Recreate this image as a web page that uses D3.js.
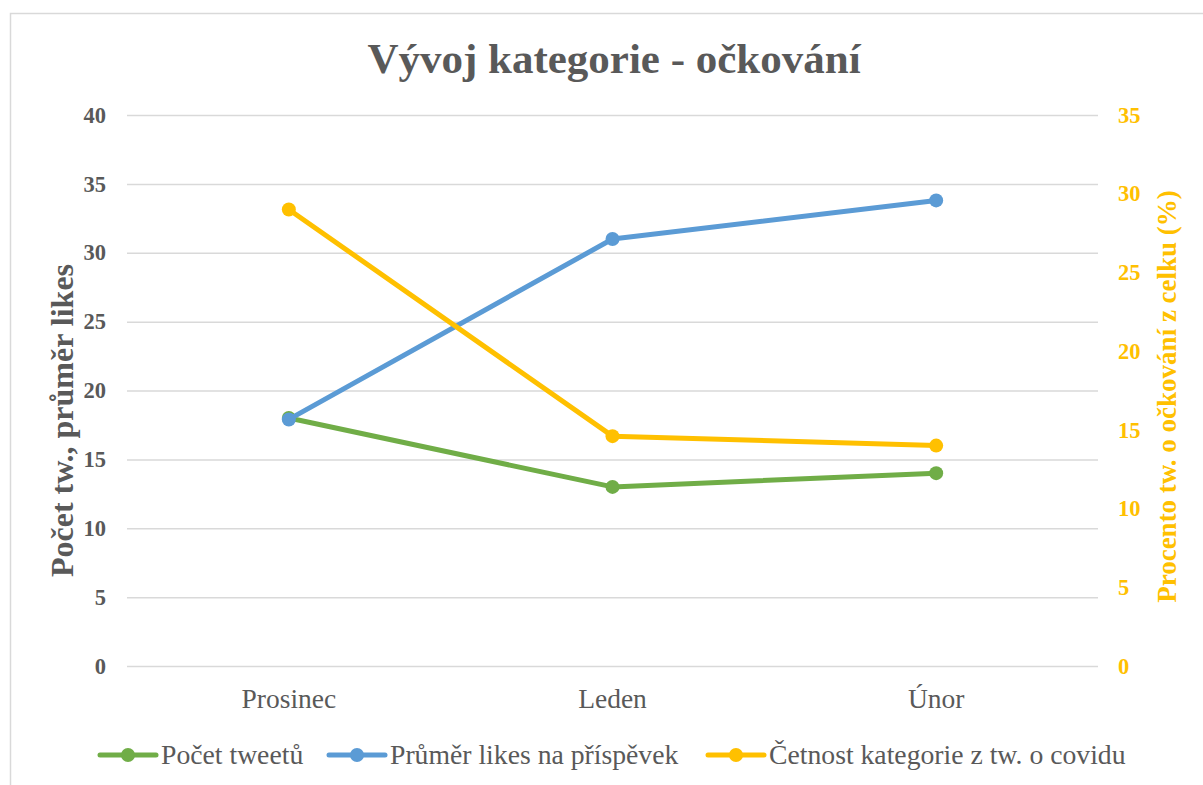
<!DOCTYPE html>
<html>
<head>
<meta charset="utf-8">
<script src="https://cdn.jsdelivr.net/npm/d3@7"></script>
<style>
    body { margin: 0; background: #ffffff; }
    text { font-family: "Liberation Serif", "Times New Roman", serif; }
</style>
</head>
<body>
<div id="chart"></div>
<script>
const months = ["Prosinec", "Leden", "Únor"];
const tweetCount = [18, 13, 14];
const avgLikes = [17.9, 31, 33.8];
const sharePct = [29, 14.6, 14];
const leftTicks = [0, 5, 10, 15, 20, 25, 30, 35, 40];
const rightTicks = [0, 5, 10, 15, 20, 25, 30, 35];
const seriesNames = ["Počet tweetů", "Průměr likes na příspěvek", "Četnost kategorie z tw. o covidu"];
const seriesColors = ["#70AD47", "#5B9BD5", "#FFC000"];

function init() {
    const w = 1203;
    const h = 785;
    const margin = { top: 115, right: 105, bottom: 119, left: 127 };

    const svg = d3.select("#chart")
        .append("svg")
        .attr("width", w)
        .attr("height", h);

    // chart frame
    svg.append("rect")
        .attr("x", 10.5)
        .attr("y", 13.5)
        .attr("width", 1200)
        .attr("height", 800)
        .attr("fill", "none")
        .attr("stroke", "#D9D9D9")
        .attr("stroke-width", 1.5);

    const x = d3.scaleBand()
        .domain(months)
        .range([margin.left, w - margin.right]);

    const yLeft = d3.scaleLinear()
        .domain([0, 40])
        .range([h - margin.bottom, margin.top]);

    const yRight = d3.scaleLinear()
        .domain([0, 35])
        .range([h - margin.bottom, margin.top]);

    // gridlines + left ticks
    const left = svg.append("g")
        .attr("transform", "translate(" + margin.left + ",0)")
        .call(d3.axisLeft(yLeft)
            .tickValues(leftTicks)
            .tickSize(-(w - margin.left - margin.right))
            .tickPadding(21));
    left.select(".domain").remove();
    left.selectAll(".tick line")
        .attr("stroke", "#D9D9D9")
        .attr("stroke-width", 1.5);
    left.selectAll(".tick text")
        .attr("fill", "#595959")
        .attr("font-size", 22.5)
        .attr("font-weight", "bold")
        .attr("font-family", "Liberation Serif");

    const right = svg.append("g")
        .attr("transform", "translate(" + (w - margin.right) + ",0)")
        .call(d3.axisRight(yRight)
            .tickValues(rightTicks)
            .tickSize(0)
            .tickPadding(20));
    right.select(".domain").remove();
    right.selectAll(".tick text")
        .attr("fill", "#FFC000")
        .attr("font-size", 22.5)
        .attr("font-weight", "bold")
        .attr("font-family", "Liberation Serif");

    const bottom = svg.append("g")
        .attr("transform", "translate(0," + (h - margin.bottom) + ")")
        .call(d3.axisBottom(x).tickSize(0).tickPadding(22));
    bottom.select(".domain").remove();
    bottom.selectAll(".tick text")
        .attr("fill", "#595959")
        .attr("font-size", 27.5)
        .attr("font-family", "Liberation Serif");

    // title
    svg.append("text")
        .attr("x", 614)
        .attr("y", 73)
        .attr("text-anchor", "middle")
        .attr("fill", "#595959")
        .attr("font-size", 43)
        .attr("font-weight", "bold")
        .text("Vývoj kategorie - očkování");

    // axis titles
    svg.append("text")
        .attr("transform", "translate(73," + ((margin.top + h - margin.bottom) / 2 + 30) + ") rotate(-90)")
        .attr("text-anchor", "middle")
        .attr("fill", "#595959")
        .attr("font-size", 32)
        .attr("font-weight", "bold")
        .text("Počet tw., průměr likes");

    svg.append("text")
        .attr("transform", "translate(1176," + ((margin.top + h - margin.bottom) / 2 + 6) + ") rotate(-90)")
        .attr("text-anchor", "middle")
        .attr("fill", "#FFC000")
        .attr("font-size", 27)
        .attr("font-weight", "bold")
        .text("Procento tw. o očkování z celku (%)");

    const series = [
        { values: tweetCount, scale: yLeft },
        { values: avgLikes, scale: yLeft },
        { values: sharePct, scale: yRight }
    ];

    const cx = d => x(d) + x.bandwidth() / 2;

    series.forEach(function (s, i) {
        const pts = months.map((m, j) => [cx(m), s.scale(s.values[j])]);
        svg.append("path")
            .datum(pts)
            .attr("d", d3.line())
            .attr("fill", "none")
            .attr("stroke", seriesColors[i])
            .attr("stroke-width", 5)
            .attr("stroke-linejoin", "round");
        svg.selectAll(".dot" + i)
            .data(pts)
            .enter()
            .append("circle")
            .attr("class", "dot" + i)
            .attr("cx", d => d[0])
            .attr("cy", d => d[1])
            .attr("r", 7)
            .attr("fill", seriesColors[i]);
    });

    // legend
    const legendX = [100, 329, 708];
    const legend = svg.append("g");
    seriesNames.forEach(function (name, i) {
        const g = legend.append("g")
            .attr("transform", "translate(" + legendX[i] + ",755)");
        g.append("line")
            .attr("x1", 0)
            .attr("x2", 56)
            .attr("stroke", seriesColors[i])
            .attr("stroke-width", 5)
            .attr("stroke-linecap", "round");
        g.append("circle")
            .attr("cx", 28)
            .attr("r", 7)
            .attr("fill", seriesColors[i]);
        g.append("text")
            .attr("x", 61)
            .attr("y", 9)
            .attr("fill", "#595959")
            .attr("font-size", 27.7)
            .text(name);
    });
}

window.onload = init;
</script>
</body>
</html>
